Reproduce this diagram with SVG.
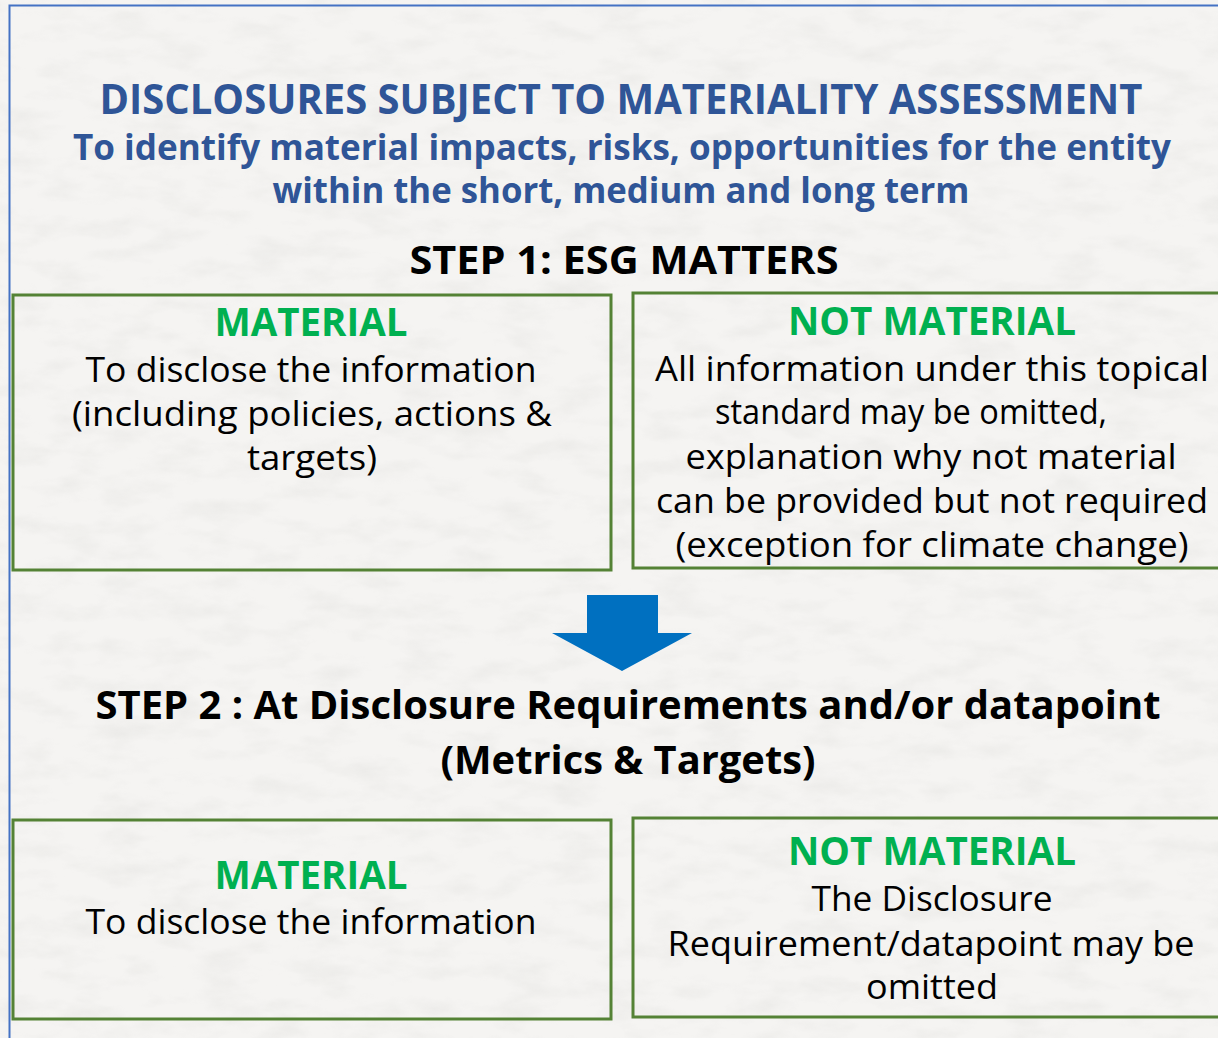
<svg xmlns="http://www.w3.org/2000/svg" width="1218" height="1038" viewBox="0 0 1218 1038">
  <defs>
    <filter id="paper" x="0" y="0" width="100%" height="100%">
      <feTurbulence type="fractalNoise" baseFrequency="0.02 0.05" numOctaves="4" seed="3" result="n"/>
      <feColorMatrix in="n" type="matrix" values="0 0 0 0 0.55  0 0 0 0 0.55  0 0 0 0 0.53  0 0 0 -1.6 0.9" />
    </filter>
    <style>
      .t { font-family: "Open Sans", "DejaVu Sans", sans-serif; text-anchor: middle; }
      .head { fill: #2F5597; font-weight: 700; }
      .step { fill: #000; font-weight: 700; font-size: 40px; }
      .lab { fill: #00B050; font-weight: 700; font-size: 40px; }
      .body { fill: #000; font-size: 34px; }
      .box { fill: none; stroke: #548235; stroke-width: 3; }
    </style>
  </defs>
  <rect width="1218" height="1038" fill="#F5F4F2"/>
  <rect width="1218" height="1038" filter="url(#paper)" opacity="0.22"/>
  <rect x="9.5" y="5.5" width="1230" height="1050" fill="none" stroke="#4472C4" stroke-width="2"/>

  <g id="header">
    <text class="t head" x="621" y="114" font-size="42" textLength="1043" lengthAdjust="spacingAndGlyphs">DISCLOSURES SUBJECT TO MATERIALITY ASSESSMENT</text>
    <text class="t head" x="622" y="160" font-size="35" textLength="1098" lengthAdjust="spacingAndGlyphs">To identify material impacts, risks, opportunities for the entity</text>
    <text class="t head" x="621" y="203" font-size="35" textLength="697" lengthAdjust="spacingAndGlyphs">within the short, medium and long term</text>
  </g>

  <g id="step1">
    <text class="t step" x="624" y="274" textLength="429" lengthAdjust="spacingAndGlyphs">STEP 1: ESG MATTERS</text>
  </g>

  <g id="step1-material">
    <rect class="box" x="13" y="295" width="598" height="275"/>
    <text class="t lab" x="311" y="336" textLength="193" lengthAdjust="spacingAndGlyphs">MATERIAL</text>
    <text class="t body" x="311" y="382" textLength="451" lengthAdjust="spacingAndGlyphs">To disclose the information</text>
    <text class="t body" x="312" y="426" textLength="480" lengthAdjust="spacingAndGlyphs">(including policies, actions &amp;</text>
    <text class="t body" x="312" y="470" textLength="130" lengthAdjust="spacingAndGlyphs">targets)</text>
  </g>

  <g id="step1-not-material">
    <rect class="box" x="633" y="293" width="620" height="275"/>
    <text class="t lab" x="932" y="335" textLength="288" lengthAdjust="spacingAndGlyphs">NOT MATERIAL</text>
    <text class="t body" x="932" y="381" textLength="554" lengthAdjust="spacingAndGlyphs">All information under this topical</text>
    <text class="t body" x="911" y="424" textLength="392" lengthAdjust="spacingAndGlyphs">standard may be omitted,</text>
    <text class="t body" x="931" y="469" textLength="491" lengthAdjust="spacingAndGlyphs">explanation why not material</text>
    <text class="t body" x="932" y="513" textLength="552" lengthAdjust="spacingAndGlyphs">can be provided but not required</text>
    <text class="t body" x="932" y="557" textLength="513" lengthAdjust="spacingAndGlyphs">(exception for climate change)</text>
  </g>

  <g id="connectors">
    <polygon points="587,595 658,595 658,633 692,633 622,671 552,633 587,633" fill="#0070C0"/>
  </g>

  <g id="step2">
    <text class="t step" x="628" y="719" textLength="1065" lengthAdjust="spacingAndGlyphs">STEP 2 : At Disclosure Requirements and/or datapoint</text>
    <text class="t step" x="628" y="774" textLength="375" lengthAdjust="spacingAndGlyphs">(Metrics &amp; Targets)</text>
  </g>

  <g id="step2-material">
    <rect class="box" x="13" y="820" width="598" height="199"/>
    <text class="t lab" x="311" y="889" textLength="193" lengthAdjust="spacingAndGlyphs">MATERIAL</text>
    <text class="t body" x="311" y="934" textLength="451" lengthAdjust="spacingAndGlyphs">To disclose the information</text>
  </g>

  <g id="step2-not-material">
    <rect class="box" x="633" y="818" width="620" height="199"/>
    <text class="t lab" x="932" y="865" textLength="288" lengthAdjust="spacingAndGlyphs">NOT MATERIAL</text>
    <text class="t body" x="932" y="911" textLength="241" lengthAdjust="spacingAndGlyphs">The Disclosure</text>
    <text class="t body" x="931" y="956" textLength="527" lengthAdjust="spacingAndGlyphs">Requirement/datapoint may be</text>
    <text class="t body" x="932" y="999" textLength="132" lengthAdjust="spacingAndGlyphs">omitted</text>
  </g>
</svg>
